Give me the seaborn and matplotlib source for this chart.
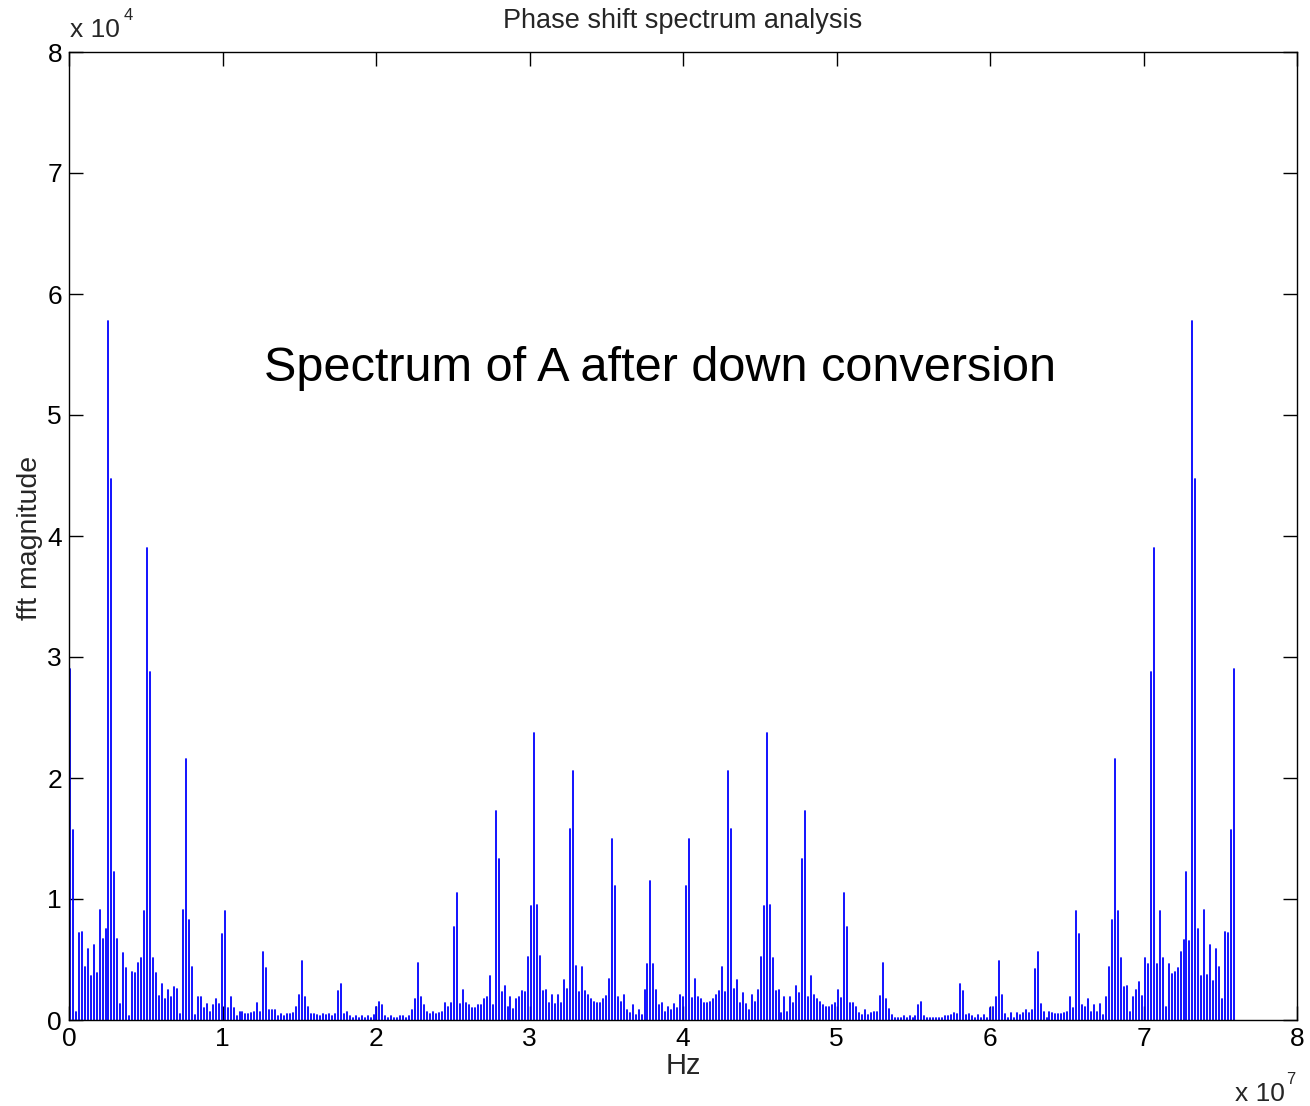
import numpy as np
import pandas as pd
import matplotlib
matplotlib.use("Agg")
import matplotlib.pyplot as plt
import seaborn as sns

# FFT bin grid (units of 1e7 Hz)
bin_start = 0.005
bin_width = 0.0194

# magnitudes (units of 1e4), one row per 13-bin period between the main peaks
mag_rows = [
    [2.9, 1.57, 0.07, 0.72, 0.73, 0.44, 0.59, 0.36, 0.62, 0.39, 0.91, 0.67, 0.75],
    [5.78, 4.47, 1.22, 0.67, 0.13, 0.55, 0.43, 0.03, 0.4, 0.39, 0.47, 0.51, 0.9],
    [3.9, 2.88, 0.51, 0.39, 0.2, 0.3, 0.17, 0.25, 0.19, 0.27, 0.26, 0.05, 0.91],
    [2.16, 0.83, 0.44, 0.04, 0.19, 0.19, 0.1, 0.13, 0.07, 0.12, 0.17, 0.13, 0.71],
    [0.9, 0.1, 0.19, 0.1, 0.03, 0.07, 0.07, 0.05, 0.05, 0.06, 0.07, 0.14, 0.07],
    [0.56, 0.43, 0.08, 0.08, 0.08, 0.03, 0.05, 0.03, 0.05, 0.05, 0.06, 0.11, 0.21],
    [0.49, 0.19, 0.11, 0.05, 0.05, 0.04, 0.03, 0.05, 0.04, 0.05, 0.03, 0.05, 0.24],
    [0.3, 0.05, 0.07, 0.03, 0.02, 0.03, 0.02, 0.03, 0.02, 0.03, 0.02, 0.04, 0.11],
    [0.15, 0.12, 0.03, 0.02, 0.03, 0.02, 0.02, 0.03, 0.03, 0.02, 0.03, 0.08, 0.17],
    [0.47, 0.19, 0.12, 0.07, 0.05, 0.07, 0.05, 0.06, 0.07, 0.14, 0.11, 0.14, 0.77],
    [1.05, 0.13, 0.25, 0.14, 0.12, 0.1, 0.1, 0.12, 0.12, 0.17, 0.19, 0.36, 0.12],
    [1.73, 1.33, 0.23, 0.28, 0.11, 0.19, 0.09, 0.17, 0.19, 0.24, 0.23, 0.52, 0.94],
    [2.37, 0.95, 0.53, 0.24, 0.25, 0.14, 0.21, 0.13, 0.21, 0.14, 0.33, 0.26, 1.58],
    [2.06, 0.45, 0.23, 0.44, 0.24, 0.21, 0.17, 0.15, 0.14, 0.14, 0.17, 0.2, 0.34],
    [1.5, 1.11, 0.19, 0.15, 0.21, 0.08, 0.06, 0.12, 0.04, 0.08, 0.04, 0.25, 0.46],
    [1.15, 0.46, 0.25, 0.12, 0.14, 0.07, 0.11, 0.08, 0.13, 0.1, 0.21, 0.19, 1.11],
    [1.5, 0.18, 0.34, 0.19, 0.17, 0.14, 0.14, 0.15, 0.17, 0.21, 0.24, 0.44, 0.23],
    [2.06, 1.58, 0.26, 0.33, 0.14, 0.22, 0.13, 0.08, 0.21, 0.15, 0.25, 0.52, 0.94],
    [2.37, 0.95, 0.51, 0.24, 0.25, 0.06, 0.19, 0.07, 0.19, 0.14, 0.28, 0.22, 1.33],
    [1.73, 0.19, 0.36, 0.21, 0.17, 0.15, 0.12, 0.11, 0.11, 0.12, 0.14, 0.25, 0.18],
    [1.05, 0.77, 0.14, 0.14, 0.11, 0.06, 0.04, 0.08, 0.04, 0.06, 0.07, 0.07, 0.2],
    [0.47, 0.17, 0.09, 0.04, 0.02, 0.02, 0.02, 0.03, 0.02, 0.03, 0.02, 0.03, 0.12],
    [0.15, 0.03, 0.02, 0.02, 0.02, 0.02, 0.02, 0.02, 0.03, 0.03, 0.04, 0.06, 0.05],
    [0.3, 0.24, 0.04, 0.05, 0.03, 0.02, 0.04, 0.02, 0.04, 0.02, 0.1, 0.11, 0.19],
    [0.49, 0.21, 0.05, 0.02, 0.06, 0.02, 0.06, 0.04, 0.06, 0.08, 0.06, 0.08, 0.42],
    [0.56, 0.13, 0.07, 0.02, 0.07, 0.06, 0.05, 0.05, 0.05, 0.06, 0.07, 0.19, 0.1],
    [0.9, 0.71, 0.12, 0.11, 0.17, 0.07, 0.12, 0.07, 0.13, 0.04, 0.19, 0.44, 0.83],
    [2.16, 0.9, 0.51, 0.27, 0.28, 0.07, 0.19, 0.25, 0.31, 0.2, 0.51, 0.46, 2.88],
    [3.9, 0.46, 0.9, 0.51, 0.11, 0.46, 0.38, 0.4, 0.43, 0.56, 0.66, 1.22, 0.65],
    [5.78, 4.47, 0.75, 0.36, 0.91, 0.37, 0.62, 0.32, 0.59, 0.44, 0.17, 0.73, 0.72],
    [1.57, 2.9],
]

x_ticks = [0, 1, 2, 3, 4, 5, 6, 7, 8]
y_ticks = [0, 1, 2, 3, 4, 5, 6, 7, 8]
title = "Phase shift spectrum analysis"
x_label = "Hz"
y_label = "fft magnitude"
annotation = "Spectrum of A after down conversion"

mag = np.array([v for row in mag_rows for v in row])
freq = bin_start + bin_width * np.arange(len(mag))
n = len(mag)
# each FFT bin drawn as a vertical stroke from zero to its magnitude
stems = pd.DataFrame({
    "bin": np.concatenate([np.arange(n), np.arange(n)]),
    "freq": np.concatenate([freq, freq]),
    "mag": np.concatenate([np.zeros(n), mag]),
})

sns.set_theme(style="white")
plt.rcParams["font.family"] = ["Liberation Sans", "DejaVu Sans"]

W, H = 1310, 1106
fig = plt.figure(figsize=(W / 100, H / 100), dpi=100)
ax = fig.add_axes([69 / W, 1 - 1020 / H, (1297 - 69) / W, (1020 - 52) / H])

sns.lineplot(data=stems, x="freq", y="mag", units="bin", estimator=None,
             color=(0, 0, 1), linewidth=1.3, sort=True, ax=ax, legend=False)

ax.set_xlim(0, 8)
ax.set_ylim(0, 8)
ax.set_xticks(x_ticks)
ax.set_yticks(y_ticks)
ax.set_xticklabels([str(t) for t in x_ticks])
ax.set_yticklabels([str(t) for t in y_ticks])
ax.tick_params(direction="in", length=10, width=1, colors="black", labelsize=19,
               top=True, right=True, bottom=True, left=True, pad=5)
for s in ax.spines.values():
    s.set_color("black")
    s.set_linewidth(1.0)
    s.set_visible(True)

ax.set_xlabel("")
ax.set_ylabel("")
fig.text(683 / W, 1 - 21 / H, title, fontsize=19.5, ha="center", va="center")
fig.text(683 / W, 1 - 1066 / H, x_label, fontsize=21, ha="center", va="center")
fig.text(30 / W, 1 - 538 / H, y_label, fontsize=20.5, ha="center", va="center",
         rotation=90)

ax.text(0.481, 0.673, annotation, transform=ax.transAxes, fontsize=35,
        ha="center", va="center", color="black")

# MATLAB-like exponent labels
fig.text(70 / W, 1 - 30 / H, "x 10", fontsize=19, ha="left", va="center")
fig.text(124 / W, 1 - 15 / H, "4", fontsize=12, ha="left", va="center")
fig.text(1235 / W, 1 - 1094 / H, "x 10", fontsize=19, ha="left", va="center")
fig.text(1286 / W, 1 - 1079 / H, "7", fontsize=12, ha="left", va="center")

fig.savefig("out.png", dpi=100, facecolor="white")
